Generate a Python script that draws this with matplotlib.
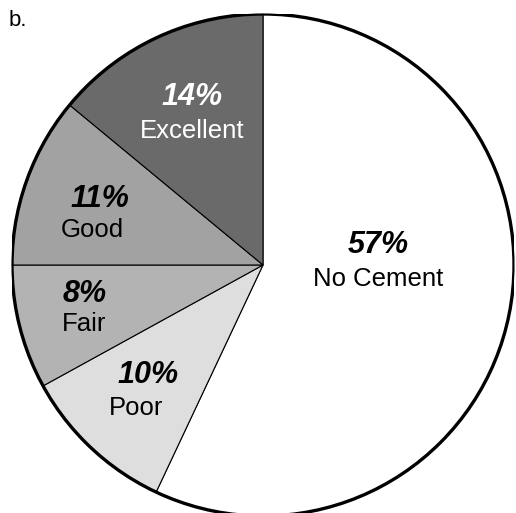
import matplotlib
matplotlib.use("Agg")
import matplotlib.pyplot as plt
from matplotlib.patches import Circle

# data (clockwise from 12 o'clock)
categories = ["No Cement", "Poor", "Fair", "Good", "Excellent"]
percents = [57, 10, 8, 11, 14]
colors = ["#ffffff", "#dedede", "#b3b3b3", "#a2a2a2", "#6a6a6a"]
text_colors = ["black", "black", "black", "black", "white"]

# label anchor (in pie-radius units, relative to the centre)
pct_pos = [(0.458, 0.080), (-0.458, -0.438), (-0.711, -0.116), (-0.649, 0.263), (-0.283, 0.669)]
lab_pos = [(0.458, -0.056), (-0.506, -0.571), (-0.711, -0.234), (-0.681, 0.139), (-0.283, 0.534)]

plt.rcParams["font.family"] = ["Liberation Sans", "DejaVu Sans"]

fig = plt.figure(figsize=(5.16, 5.13), dpi=100)
ax = fig.add_axes([12 / 516, (248 - 251) / 513, 502 / 516, 502 / 513])

ax.pie(percents, colors=colors, startangle=90, counterclock=False, radius=1.0,
       wedgeprops={"edgecolor": "black", "linewidth": 0.8})
ax.add_patch(Circle((0, 0), 1.0, fill=False, edgecolor="black", linewidth=2.4, zorder=5))

for i, cat in enumerate(categories):
    ax.text(pct_pos[i][0], pct_pos[i][1], f"{percents[i]}%", ha="center", va="center",
            fontsize=22, fontweight="bold", fontstyle="italic", color=text_colors[i])
    ax.text(lab_pos[i][0], lab_pos[i][1], cat, ha="center", va="center",
            fontsize=18.5, color=text_colors[i])

ax.set_xlim(-1, 1)
ax.set_ylim(-1, 1)
ax.set_aspect("equal")
ax.axis("off")

fig.text(9 / 516, 1 - 20 / 513, "b.", ha="left", va="center", fontsize=16)

fig.savefig("out.png", dpi=100, facecolor="white")
